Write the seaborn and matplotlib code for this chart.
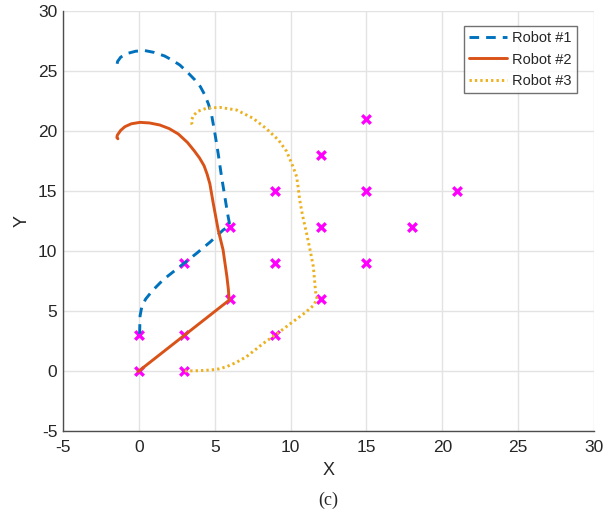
import numpy as np
import pandas as pd
import matplotlib.pyplot as plt
import seaborn as sns

# Target points (magenta crosses)
target_x = [0, 0, 3, 3, 3, 6, 6, 9, 9, 9, 12, 12, 12, 15, 15, 15, 18, 21]
target_y = [0, 3, 0, 3, 9, 6, 12, 3, 9, 15, 6, 12, 18, 9, 15, 21, 12, 15]

# Robot #1 trajectory
r1_x = [0.05, 0.08, 0.2, 0.45, 0.9, 1.6, 2.7, 3.8, 4.7, 5.56, 6.0, 5.85, 5.67, 5.45, 5.23,
        5.0, 4.8, 4.6, 4.35, 4.05, 3.7, 3.2, 2.7, 2.2, 1.7, 1.0, 0.4, -0.2, -0.8, -1.2,
        -1.4, -1.45, -1.38]
r1_y = [3.1, 4.6, 5.4, 6.0, 6.7, 7.6, 8.7, 9.8, 10.75, 11.75, 12.1, 13.1, 14.5, 16.2, 18.1,
        19.9, 21.3, 22.2, 23.0, 23.7, 24.25, 24.9, 25.5, 25.9, 26.25, 26.55, 26.7, 26.65, 26.45, 26.15,
        25.8, 25.5, 25.45]

# Robot #2 trajectory
r2_x = [-0.05, 5.95, 5.9, 5.8, 5.55, 5.23, 4.9, 4.68, 4.5, 4.3, 4.0, 3.65, 3.2, 2.6, 2.0,
        1.38, 0.7, 0.07, -0.5, -0.92, -1.2, -1.42, -1.45, -1.38]
r2_y = [-0.05, 5.9, 6.8, 7.9, 10.1, 11.75, 14.0, 15.6, 16.4, 17.1, 17.75, 18.35, 19.05, 19.75, 20.2,
        20.5, 20.67, 20.72, 20.6, 20.36, 20.05, 19.65, 19.45, 19.35]

# Robot #3 trajectory
r3_x = [3.03, 4.0, 4.7, 5.3, 5.78, 6.4, 7.1, 8.2, 9.1, 10.15, 11.0, 11.5, 11.75, 11.65, 11.5,
        11.3, 11.05, 10.8, 10.6, 10.5, 10.4, 10.17, 9.74, 9.2, 8.4, 7.53, 6.44, 5.34, 4.46, 3.9,
        3.6, 3.47, 3.5, 3.58]
r3_y = [0.0, 0.03, 0.08, 0.18, 0.36, 0.7, 1.2, 2.3, 3.1, 4.1, 4.9, 5.45, 6.0, 6.6, 8.7,
        10.0, 11.5, 12.9, 14.25, 15.3, 16.2, 17.0, 18.3, 19.25, 20.2, 21.06, 21.75, 21.97, 21.9, 21.65,
        21.3, 20.9, 20.55, 20.35]

robot_names = ["Robot #1", "Robot #2", "Robot #3"]
robot_colors = ["#0072BD", "#D95319", "#EDB120"]
robot_styles = [(0, (3.3, 2.4)), "-", (0, (0.8, 1.05))]

sns.set_style("white")
plt.rcParams["font.family"] = ["Liberation Sans", "DejaVu Sans"]
plt.rcParams["axes.unicode_minus"] = False

fig = plt.figure(figsize=(6.13, 5.14), dpi=100)
ax = fig.add_axes([63 / 613, 83 / 514, 531 / 613, 420 / 514])

sns.scatterplot(x=target_x, y=target_y, marker="x", color="#FF00FF", s=38,
                linewidth=2.4, ax=ax, zorder=2, legend=False)

trajs = [(r1_x, r1_y), (r2_x, r2_y), (r3_x, r3_y)]
for (tx, ty), name, col, ls in zip(trajs, robot_names, robot_colors, robot_styles):
    df = pd.DataFrame({"x": tx, "y": ty})
    sns.lineplot(data=df, x="x", y="y", sort=False, estimator=None, color=col,
                 linestyle=ls, lw=2.1, label=name, ax=ax, zorder=3)

ax.set_xlim(-5, 30)
ax.set_ylim(-5, 30)
ax.set_xticks(np.arange(-5, 31, 5))
ax.set_yticks(np.arange(-5, 31, 5))
ax.grid(True, color="#e3e3e3", lw=1)
ax.set_axisbelow(True)
for side in ["top", "right"]:
    ax.spines[side].set_visible(False)
for side in ["left", "bottom"]:
    ax.spines[side].set_color("#4d4d4d")
    ax.spines[side].set_linewidth(1.0)
ax.tick_params(direction="in", length=4, width=1, color="#4d4d4d",
               labelsize=12.5, labelcolor="#262626")
ax.tick_params(axis="x", pad=6.5)
ax.tick_params(axis="y", pad=4)
ax.set_xlabel("X", fontsize=13, color="#262626", labelpad=5)
ax.set_ylabel("Y", fontsize=13, color="#262626", labelpad=5)

leg = ax.legend(loc="upper right", bbox_to_anchor=(0.968, 0.964),
                fontsize=10.5, frameon=True, fancybox=False, handlelength=2.6,
                borderpad=0.35, labelspacing=0.5, handletextpad=0.35, borderaxespad=0)
leg.get_frame().set_edgecolor("#4d4d4d")
leg.get_frame().set_linewidth(1.0)

fig.text(328 / 613, 14 / 514, "(c)", ha="center", va="center", fontsize=13,
         family=["Liberation Serif", "DejaVu Serif"])

fig.savefig("out.png", dpi=100)
